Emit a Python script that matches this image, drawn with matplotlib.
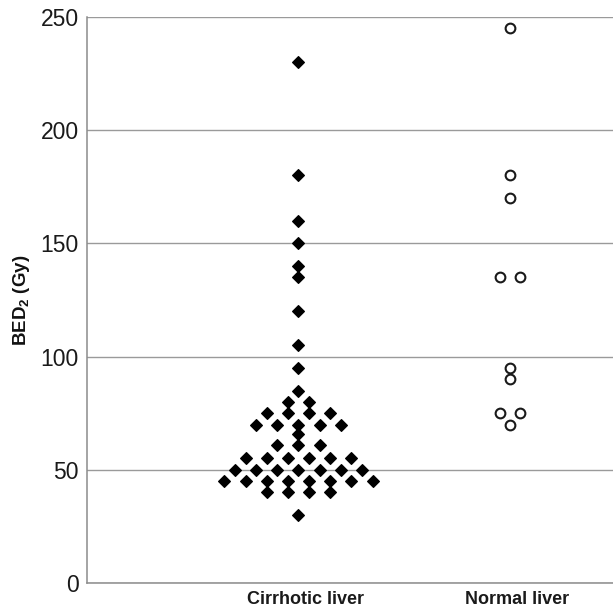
import numpy as np
import matplotlib
matplotlib.use("Agg")
from matplotlib import pyplot as plt
from matplotlib.transforms import ScaledTranslation

plt.rcParams['font.family'] = ['Liberation Sans', 'DejaVu Sans']

# data
groups = ['Cirrhotic liver', 'Normal liver']
cirrhotic = [230, 180, 160, 150, 140, 135, 120, 105, 95, 85,
             80, 80, 75, 75, 75, 75, 70, 70, 70, 70, 70, 66,
             61, 61, 61, 55, 55, 55, 55, 55, 55,
             50, 50, 50, 50, 50, 50, 50,
             45, 45, 45, 45, 45, 45, 45, 45,
             40, 40, 40, 40, 30]
normal = [245, 180, 170, 135, 135, 95, 90, 75, 75, 70]
yticks = [0, 50, 100, 150, 200, 250]


def swarm_x(values, center, step):
    # points with the same value sit side by side, centred on the category
    values = np.asarray(values, dtype=float)
    xs = np.zeros(len(values))
    for v in np.unique(values):
        idx = np.where(values == v)[0]
        n = len(idx)
        xs[idx] = center + (np.arange(n) - (n - 1) / 2) * step
    return xs


fig = plt.figure(figsize=(6.13, 6.07), dpi=100)
ax = fig.add_axes([87 / 613, 1 - 583 / 607, 1 - 87 / 613, (583 - 17) / 607])

x1 = swarm_x(cirrhotic, 1, 0.1)
x2 = swarm_x(normal, 2, 0.091)

ax.plot(x1, cirrhotic, linestyle='none', marker='D', markersize=6.6,
        markerfacecolor='black', markeredgecolor='black', markeredgewidth=0.8,
        zorder=3)
ax.plot(x2, normal, linestyle='none', marker='o', markersize=7,
        markerfacecolor='white', markeredgecolor='#1a1a1a', markeredgewidth=1.5,
        zorder=3)

ax.set_xlim(0, 2.487)
ax.set_ylim(0, 250)
ax.set_yticks(yticks)
ax.set_xticks([1, 2])
ax.set_xticklabels(groups, fontsize=13, fontweight='bold')
ax.tick_params(axis='y', length=0, pad=6, labelsize=16.5, labelcolor='#1a1a1a')
ax.tick_params(axis='x', length=0, pad=6, labelcolor='#1a1a1a')

# category labels sit a bit right of the marker columns
off = ScaledTranslation(7 / 100, 0, fig.dpi_scale_trans)
for lab in ax.get_xticklabels():
    lab.set_transform(lab.get_transform() + off)

ax.yaxis.grid(True, color='#9a9a9a', linewidth=1.0)
ax.set_axisbelow(True)
for s in ['top', 'right']:
    ax.spines[s].set_visible(False)
for s in ['left', 'bottom']:
    ax.spines[s].set_color('#8c8c8c')
    ax.spines[s].set_linewidth(1.1)

ax.set_ylabel('BED$_\\mathregular{2}$ (Gy)', fontsize=13.5, fontweight='bold',
              color='#111111', labelpad=6)

fig.savefig('out.png', dpi=100)
